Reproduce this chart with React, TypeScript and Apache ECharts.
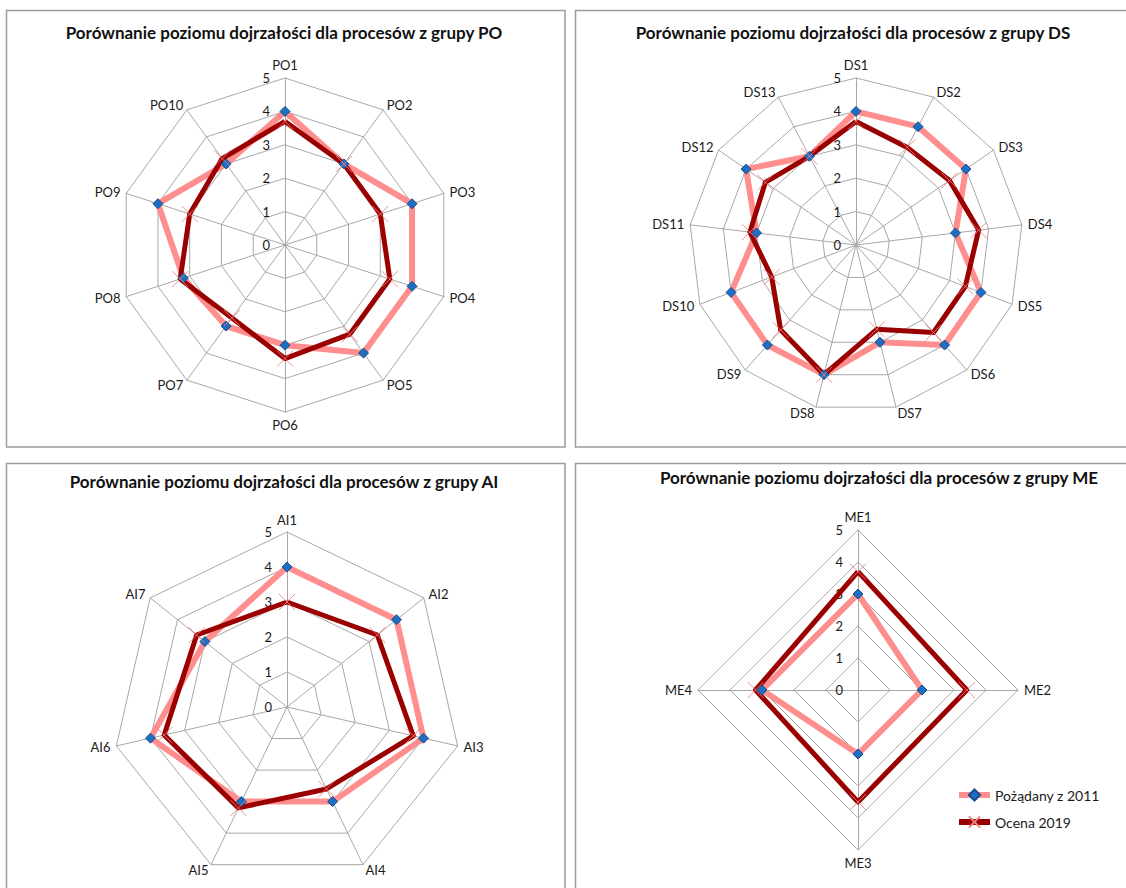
import React, { useEffect, useRef } from "react";
import * as echarts from "echarts";

// Process groups: categories and maturity levels (target from 2011 vs. 2019 assessment)
const poCategories = ["PO1", "PO2", "PO3", "PO4", "PO5", "PO6", "PO7", "PO8", "PO9", "PO10"];
const poTarget = [4, 3, 4, 4, 4, 3, 3, 3.2, 4, 3];
const poAssessment = [3.7, 3, 3, 3.3, 3.3, 3.4, 2.7, 3.3, 3, 3.2];

const dsCategories = ["DS1", "DS2", "DS3", "DS4", "DS5", "DS6", "DS7", "DS8", "DS9", "DS10", "DS11", "DS12", "DS13"];
const dsTarget = [4, 4, 4, 3, 4, 4, 3, 4, 4, 4, 3, 4, 3];
const dsAssessment = [3.7, 3.3, 3.4, 3.7, 3.5, 3.5, 2.6, 4, 3.4, 2.7, 3.2, 3.3, 3];

const aiCategories = ["AI1", "AI2", "AI3", "AI4", "AI5", "AI6", "AI7"];
const aiTarget = [4, 4, 4, 3, 3, 4, 3];
const aiAssessment = [3, 3.3, 3.7, 2.6, 3.2, 3.6, 3.3];

const meCategories = ["ME1", "ME2", "ME3", "ME4"];
const meTarget = [3, 2, 2, 3];
const meAssessment = [3.7, 3.4, 3.5, 3.2];

const titles = [
  "Porównanie poziomu dojrzałości dla procesów z grupy PO",
  "Porównanie poziomu dojrzałości dla procesów z grupy DS",
  "Porównanie poziomu dojrzałości dla procesów z grupy AI",
  "Porównanie poziomu dojrzałości dla procesów z grupy ME",
];

const seriesNames = ["Pożądany z 2011", "Ocena 2019"];
const scaleMin = 0;
const scaleMax = 5;

const FONT = "Lato, 'Open Sans', sans-serif";
const PINK = "#FF8E8E";
const DARK = "#9A0000";
const BLUE = "#1E6EC2";
const GRID = "#A8A8A8";
const X_SYMBOL = "path://M0,0L10,10M10,0L0,10";

// ECharts lays radar indicators out counter-clockwise; keep the first item on top
// and reverse the rest so the categories run clockwise.
const clockwise = <T,>(arr: T[]): T[] => [arr[0], ...arr.slice(1).reverse()];

type Panel = {
  categories: string[];
  target: number[];
  assessment: number[];
  center: [number, number];
  radius: number;
};

const panels: Panel[] = [
  { categories: poCategories, target: poTarget, assessment: poAssessment, center: [285, 245], radius: 167 },
  { categories: dsCategories, target: dsTarget, assessment: dsAssessment, center: [856, 245], radius: 167 },
  { categories: aiCategories, target: aiTarget, assessment: aiAssessment, center: [287, 707], radius: 175 },
  { categories: meCategories, target: meTarget, assessment: meAssessment, center: [858, 690], radius: 160 },
];

const titlePos: [number, number][] = [
  [284, 32],
  [853, 32],
  [284, 481],
  [879, 477],
];

const frames = [
  { x: 6.5, y: 10.5, width: 558.5, height: 436.5 },
  { x: 575.5, y: 10.5, width: 560, height: 436.5 },
  { x: 6.5, y: 463.5, width: 558.5, height: 440 },
  { x: 575.5, y: 463.5, width: 560, height: 440 },
];

function buildOption() {
  const radar = panels.map((p) => ({
    center: p.center,
    radius: p.radius,
    startAngle: 90,
    shape: "polygon",
    splitNumber: 5,
    nameGap: 6,
    indicator: clockwise(p.categories).map((name, i) => ({
      name,
      min: scaleMin,
      max: scaleMax,
      ...(i === 0 ? { axisLabel: { show: true } } : {}),
    })),
    axisName: { color: "#1a1a1a", fontFamily: FONT, fontSize: 13 },
    axisLine: { lineStyle: { color: GRID, width: 1 } },
    splitLine: { lineStyle: { color: GRID, width: 1 } },
    splitArea: { show: false },
    axisTick: { show: false },
    axisLabel: { show: false, color: "#1a1a1a", fontFamily: FONT, fontSize: 13, margin: 15 },
  }));

  const series: any[] = [
    // Line series used only for the legend icons (line with marker)
    {
      type: "line",
      name: seriesNames[0],
      data: [],
      symbol: "diamond",
      symbolSize: 9,
      lineStyle: { color: PINK, width: 6 },
      itemStyle: { color: BLUE, borderColor: "#174f8e", borderWidth: 1 },
    },
    {
      type: "line",
      name: seriesNames[1],
      data: [],
      symbol: X_SYMBOL,
      symbolSize: 12,
      lineStyle: { color: DARK, width: 6 },
      itemStyle: { color: "transparent", borderColor: "#F08080", borderWidth: 1 },
    },
  ];

  panels.forEach((p, idx) => {
    const target = clockwise(p.target);
    const assessment = clockwise(p.assessment);
    series.push(
      {
        type: "radar",
        name: seriesNames[0],
        radarIndex: idx,
        z: 2,
        symbol: "none",
        lineStyle: { color: PINK, width: 6 },
        itemStyle: { color: PINK },
        data: [{ value: target, name: seriesNames[0] }],
      },
      {
        type: "radar",
        name: seriesNames[1],
        radarIndex: idx,
        z: 3,
        symbol: "none",
        lineStyle: { color: DARK, width: 5 },
        itemStyle: { color: DARK },
        data: [{ value: assessment, name: seriesNames[1] }],
      },
      {
        type: "radar",
        name: seriesNames[0],
        radarIndex: idx,
        z: 4,
        symbol: "diamond",
        symbolSize: 10,
        lineStyle: { width: 0, opacity: 0 },
        itemStyle: { color: BLUE, borderColor: "#174f8e", borderWidth: 1 },
        data: [{ value: target, name: seriesNames[0] }],
      },
      {
        type: "radar",
        name: seriesNames[1],
        radarIndex: idx,
        z: 4,
        symbol: X_SYMBOL,
        symbolSize: 16,
        lineStyle: { width: 0, opacity: 0 },
        itemStyle: { color: "transparent", borderColor: "#F27C7C", borderWidth: 1, opacity: 0.85 },
        data: [{ value: assessment, name: seriesNames[1] }],
      }
    );
  });

  const graphic: any[] = [
    ...frames.map((f) => ({
      type: "rect",
      shape: f,
      style: { fill: "none", stroke: "#9C9C9C", lineWidth: 1.5 },
      silent: true,
    })),
    ...titles.map((t, i) => ({
      type: "text",
      x: titlePos[i][0],
      y: titlePos[i][1],
      style: {
        text: t,
        fill: "#111",
        font: `bold 17px ${FONT}`,
        align: "center",
        verticalAlign: "middle",
      },
    })),
  ];

  return {
    animation: false,
    backgroundColor: "#ffffff",
    grid: { left: 0, top: 0, width: 1, height: 1, show: false },
    xAxis: { type: "category", show: false, data: [] },
    yAxis: { type: "value", show: false },
    legend: {
      data: seriesNames,
      orient: "vertical",
      left: 956,
      top: 788,
      padding: 0,
      itemWidth: 31,
      itemHeight: 14,
      itemGap: 13,
      lineStyle: { width: 6 },
      textStyle: { fontFamily: FONT, fontSize: 14, color: "#1a1a1a" },
    },
    radar,
    series,
    graphic,
  };
}

export default function App() {
  const ref = useRef<HTMLDivElement>(null);

  useEffect(() => {
    if (!ref.current) return;
    const chart = echarts.init(ref.current, undefined, { renderer: "svg" });
    chart.setOption(buildOption() as any);
    return () => chart.dispose();
  }, []);

  return (
    <div
      ref={ref}
      style={{ position: "absolute", left: 0, top: 0, width: 1126, height: 888, background: "#fff" }}
    />
  );
}
